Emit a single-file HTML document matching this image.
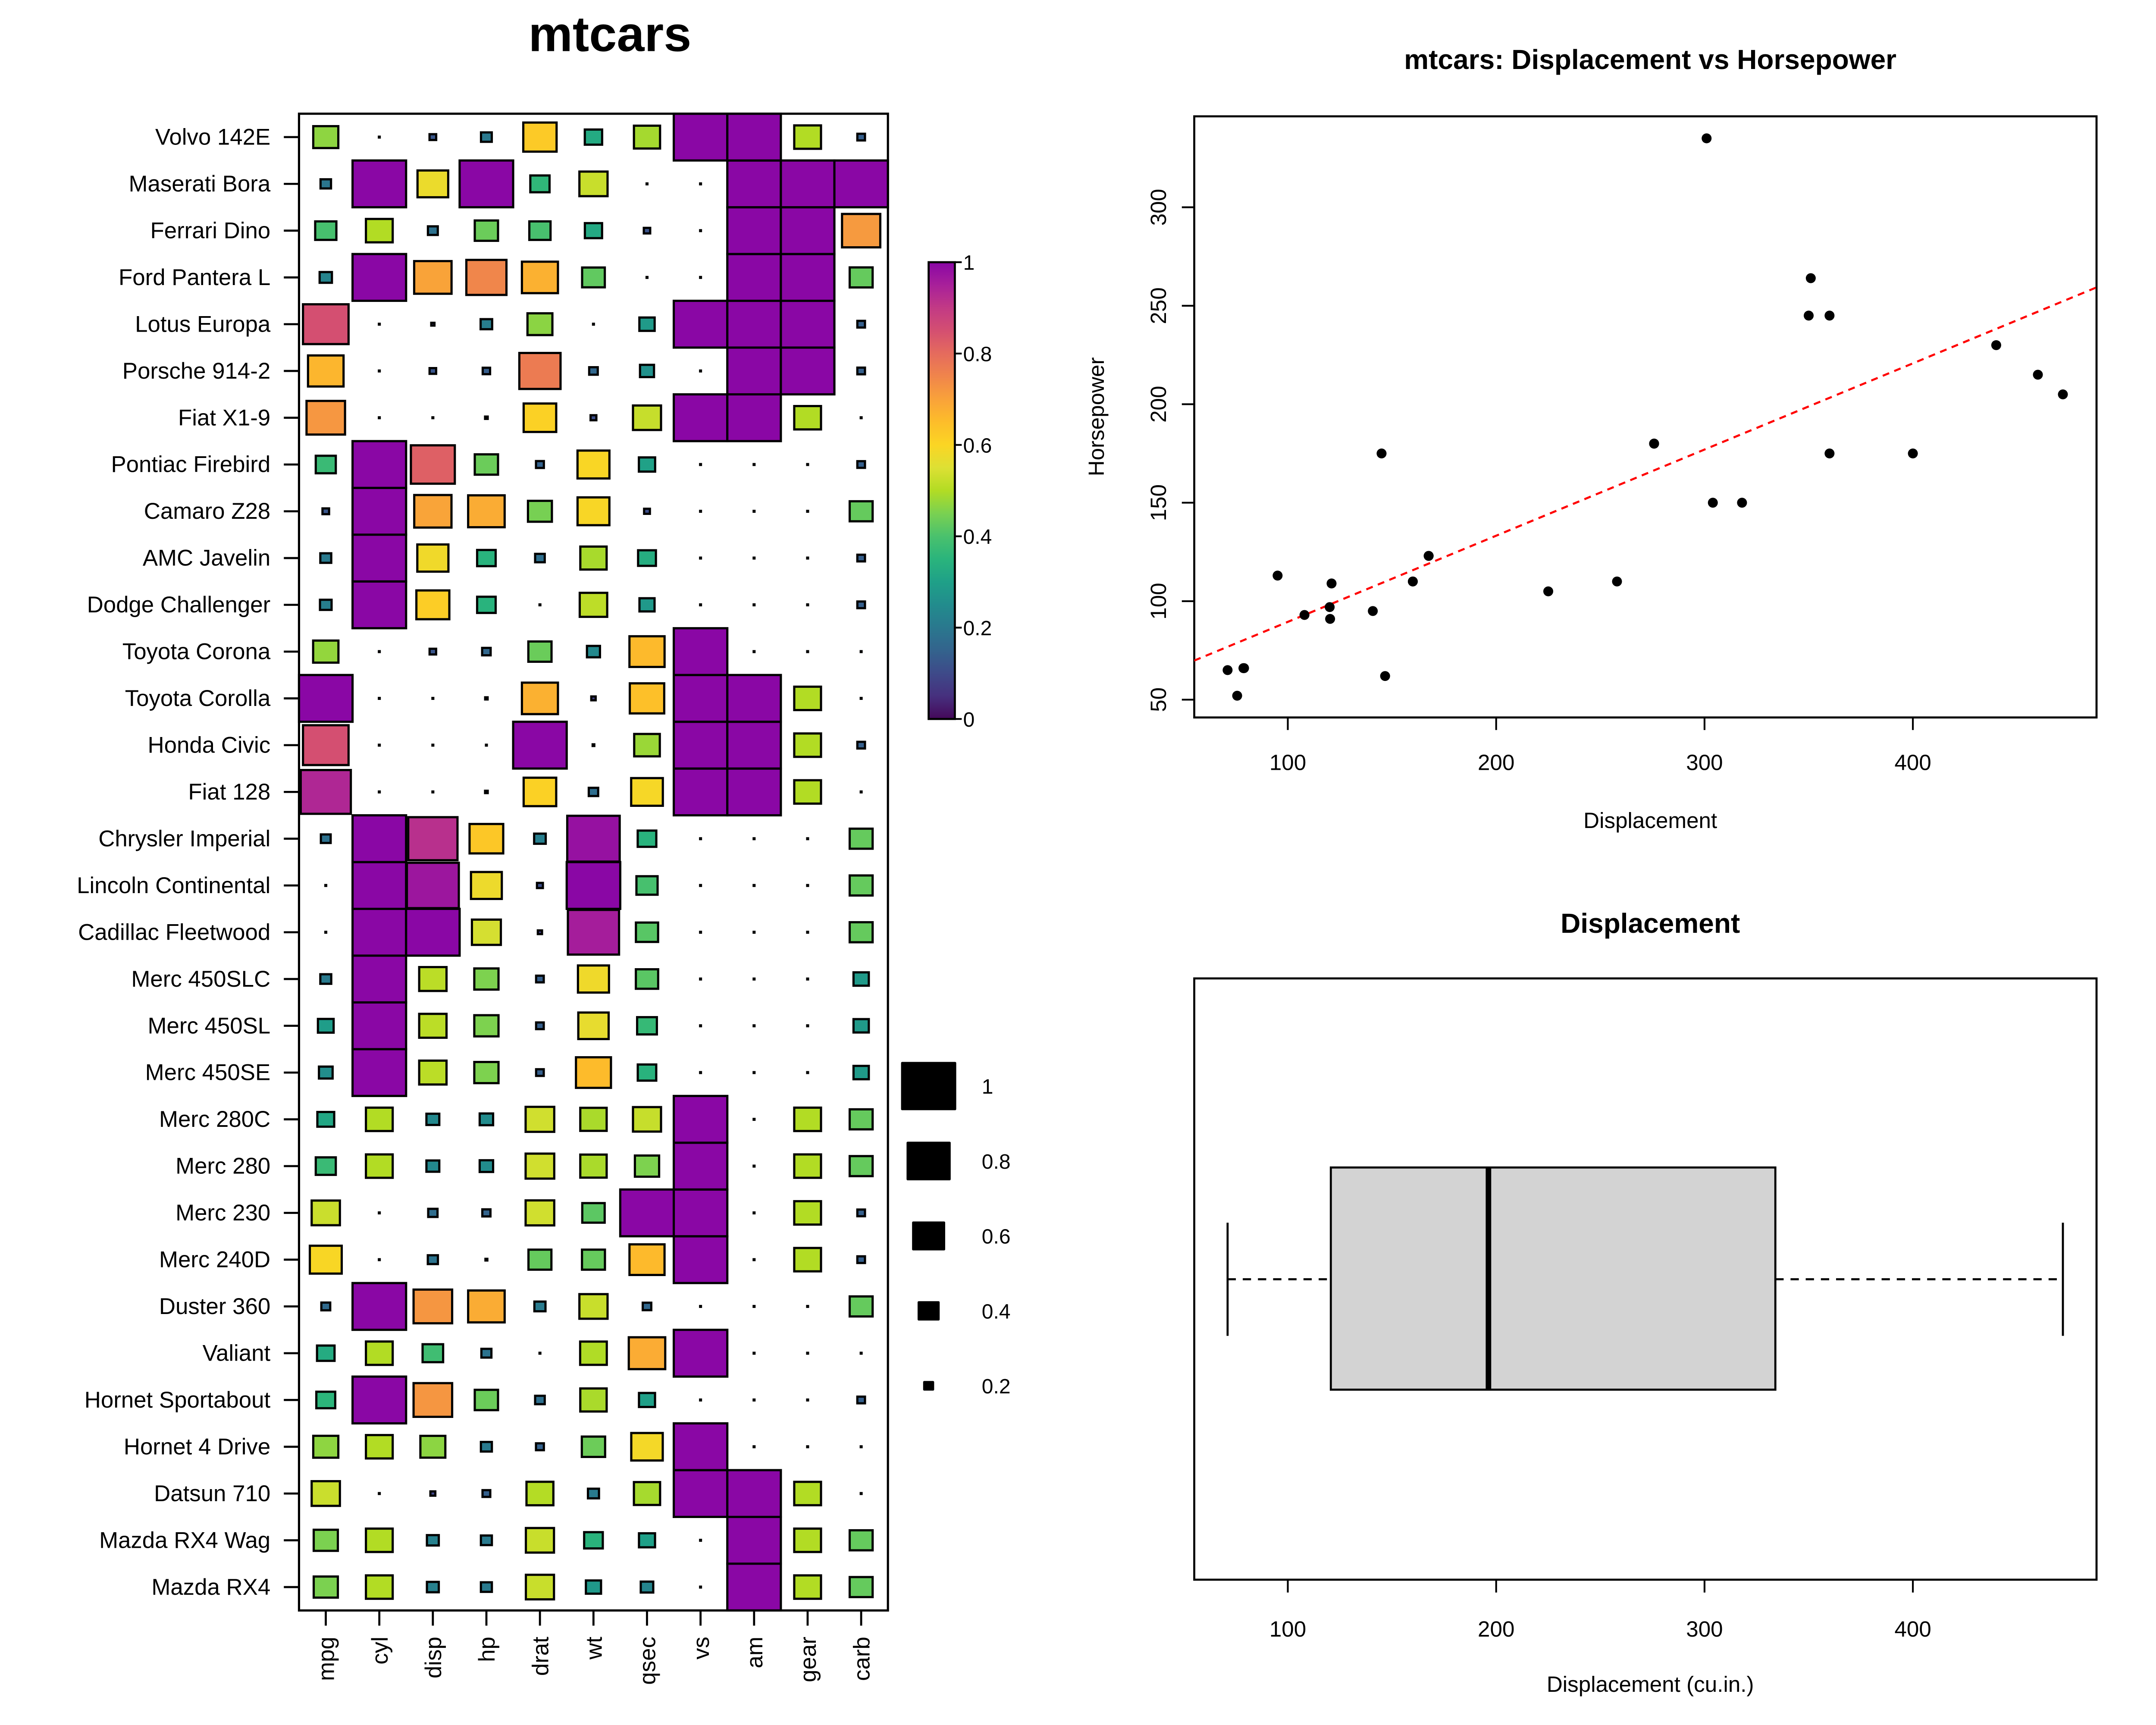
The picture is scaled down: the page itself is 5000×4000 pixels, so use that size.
<!DOCTYPE html>
<html><head><meta charset="utf-8"><style>
html,body{margin:0;padding:0;background:#fff;}
svg{display:block;}
text{font-family:"Liberation Sans",sans-serif;fill:#000;}
</style></head><body>
<svg id="chart" xmlns="http://www.w3.org/2000/svg" width="5000" height="4000" viewBox="0 0 1562.5 1250">
<defs>
<linearGradient id="cbgrad" x1="0" y1="1" x2="0" y2="0">
<stop offset="0" stop-color="#45085a"/><stop offset="0.05" stop-color="#46307e"/><stop offset="0.1" stop-color="#3e4a89"/>
<stop offset="0.15" stop-color="#33638d"/><stop offset="0.2" stop-color="#2a788e"/><stop offset="0.25" stop-color="#228c8d"/>
<stop offset="0.3" stop-color="#1fa088"/><stop offset="0.35" stop-color="#2ab47c"/><stop offset="0.4" stop-color="#4ac16d"/>
<stop offset="0.45" stop-color="#7ad151"/><stop offset="0.5" stop-color="#b2dc24"/><stop offset="0.55" stop-color="#dde034"/>
<stop offset="0.6" stop-color="#fbd524"/><stop offset="0.65" stop-color="#fdbd2a"/><stop offset="0.7" stop-color="#f9a23a"/>
<stop offset="0.75" stop-color="#f0854b"/><stop offset="0.8" stop-color="#e56b5d"/><stop offset="0.85" stop-color="#d44f71"/>
<stop offset="0.9" stop-color="#c23a85"/><stop offset="0.95" stop-color="#a8209a"/><stop offset="1" stop-color="#8a07a5"/>
</linearGradient>
<clipPath id="scClip"><rect x="865.5" y="84.3" width="653.9" height="435.6"/></clipPath>
</defs>

<text x="442" y="37" font-size="36" font-weight="bold" text-anchor="middle">mtcars</text>
<g id="heat"></g>
<rect x="216.7" y="82.4" width="426.8" height="1084.6" fill="none" stroke="#000" stroke-width="1.6"/>

<g>
<rect x="673" y="190" width="19" height="331" fill="url(#cbgrad)" stroke="#000" stroke-width="1.5"/>
<g id="cbticks"></g>
</g>
<g id="sizeLegend"></g>

<text x="1196" y="50" font-size="20" font-weight="bold" text-anchor="middle">mtcars: Displacement vs Horsepower</text>
<rect x="865.5" y="84.3" width="653.9" height="435.6" fill="none" stroke="#000" stroke-width="1.5"/>
<g id="scatter"></g>
<text x="1196" y="600" font-size="16" text-anchor="middle">Displacement</text>
<text transform="translate(800,302) rotate(-90)" font-size="16" text-anchor="middle">Horsepower</text>

<text x="1196" y="676" font-size="20" font-weight="bold" text-anchor="middle">Displacement</text>
<rect x="865.5" y="709" width="653.9" height="435.7" fill="none" stroke="#000" stroke-width="1.5"/>
<g id="boxplot"></g>
<text x="1196" y="1226" font-size="16" text-anchor="middle">Displacement (cu.in.)</text>
</svg>
<script>
const carNames = ["Mazda RX4","Mazda RX4 Wag","Datsun 710","Hornet 4 Drive","Hornet Sportabout","Valiant","Duster 360","Merc 240D","Merc 230","Merc 280","Merc 280C","Merc 450SE","Merc 450SL","Merc 450SLC","Cadillac Fleetwood","Lincoln Continental","Chrysler Imperial","Fiat 128","Honda Civic","Toyota Corolla","Toyota Corona","Dodge Challenger","AMC Javelin","Camaro Z28","Pontiac Firebird","Fiat X1-9","Porsche 914-2","Lotus Europa","Ford Pantera L","Ferrari Dino","Maserati Bora","Volvo 142E"];
const varNames = ["mpg","cyl","disp","hp","drat","wt","qsec","vs","am","gear","carb"];
const mpg = [21,21,22.8,21.4,18.7,18.1,14.3,24.4,22.8,19.2,17.8,16.4,17.3,15.2,10.4,10.4,14.7,32.4,30.4,33.9,21.5,15.5,15.2,13.3,19.2,27.3,26,30.4,15.8,19.7,15,21.4];
const cyl = [6,6,4,6,8,6,8,4,4,6,6,8,8,8,8,8,8,4,4,4,4,8,8,8,8,4,4,4,8,6,8,4];
const disp = [160,160,108,258,360,225,360,146.7,140.8,167.6,167.6,275.8,275.8,275.8,472,460,440,78.7,75.7,71.1,120.1,318,304,350,400,79,120.3,95.1,351,145,301,121];
const hp = [110,110,93,110,175,105,245,62,95,123,123,180,180,180,205,215,230,66,52,65,97,150,150,245,175,66,91,113,264,175,335,109];
const drat = [3.9,3.9,3.85,3.08,3.15,2.76,3.21,3.69,3.92,3.92,3.92,3.07,3.07,3.07,2.93,3,3.23,4.08,4.93,4.22,3.7,2.76,3.15,3.73,3.08,4.08,4.43,3.77,4.22,3.62,3.54,4.11];
const wt = [2.62,2.875,2.32,3.215,3.44,3.46,3.57,3.19,3.15,3.44,3.44,4.07,3.73,3.78,5.25,5.424,5.345,2.2,1.615,1.835,2.465,3.52,3.435,3.84,3.845,1.935,2.14,1.513,3.17,2.77,3.57,2.78];
const qsec = [16.46,17.02,18.61,19.44,17.02,20.22,15.84,20,22.9,18.3,18.9,17.4,17.6,18,17.98,17.82,17.42,19.47,18.52,19.9,20.01,16.87,17.3,15.41,17.05,18.9,16.7,16.9,14.5,15.5,14.6,18.6];
const vs = [0,0,1,1,0,1,0,1,1,1,1,0,0,0,0,0,0,1,1,1,1,0,0,0,0,1,0,1,0,0,0,1];
const am = [1,1,1,0,0,0,0,0,0,0,0,0,0,0,0,0,0,1,1,1,0,0,0,0,0,1,1,1,1,1,1,1];
const gear = [4,4,4,3,3,3,3,4,4,4,4,3,3,3,3,3,3,4,4,4,3,3,3,3,3,4,5,5,5,5,5,4];
const carb = [4,4,1,1,2,1,4,2,2,4,4,3,3,3,4,4,4,1,2,1,1,2,2,4,2,1,2,2,4,6,8,2];
const colorbarTicks = [0,0.2,0.4,0.6,0.8,1];
const sizeLegendValues = [1,0.8,0.6,0.4,0.2];
const scatterXTicks = [100,200,300,400];
const scatterYTicks = [50,100,150,200,250,300];
const boxXTicks = [100,200,300,400];

const NS = "http://www.w3.org/2000/svg";
function mk(tag, attrs, parent){const e=document.createElementNS(NS,tag);for(const k in attrs)e.setAttribute(k,attrs[k]);parent.appendChild(e);return e;}
const stops=[[0,"#45085a"],[0.05,"#46307e"],[0.1,"#3e4a89"],[0.15,"#33638d"],[0.2,"#2a788e"],[0.25,"#228c8d"],[0.3,"#1fa088"],[0.35,"#2ab47c"],[0.4,"#4ac16d"],[0.45,"#7ad151"],[0.5,"#b2dc24"],[0.55,"#dde034"],[0.6,"#fbd524"],[0.65,"#fdbd2a"],[0.7,"#f9a23a"],[0.75,"#f0854b"],[0.8,"#e56b5d"],[0.85,"#d44f71"],[0.9,"#c23a85"],[0.95,"#a8209a"],[1,"#8a07a5"]];
function hx(c){return [parseInt(c.substr(1,2),16),parseInt(c.substr(3,2),16),parseInt(c.substr(5,2),16)];}
function colorOf(v){for(let i=0;i<stops.length-1;i++){if(v<=stops[i+1][0]){const t=(v-stops[i][0])/(stops[i+1][0]-stops[i][0]);const a=hx(stops[i][1]),b=hx(stops[i+1][1]);return "rgb("+a.map((x,j)=>Math.round(x+(b[j]-x)*t)).join(",")+")";}}return stops[stops.length-1][1];}

const heat=document.getElementById("heat");
const hL=216.7,hR=643.5,hT=82.4,hB=1167;
const cw=(hR-hL)/varNames.length, ch=(hB-hT)/carNames.length;
const cols=[mpg,cyl,disp,hp,drat,wt,qsec,vs,am,gear,carb];
function colX(j){return hL+(j+0.5)*cw;}
function rowY(i){return hB-(i+0.5)*ch;}
cols.forEach((arr,j)=>{
  const mn=Math.min(...arr),mx=Math.max(...arr);
  arr.forEach((val,i)=>{
    const v=(val-mn)/(mx-mn);
    const w=Math.max(v*cw,1.2),h=Math.max(v*ch,1.2);
    const r=mk("rect",{x:colX(j)-w/2,y:rowY(i)-h/2,width:w,height:h,fill:colorOf(v),stroke:"#000","stroke-width":v>0.02?1.6:1},heat);
    
    
  });
});
carNames.forEach((nm,i)=>{
  const t=mk("line",{x1:hL-11,x2:hL,y1:rowY(i),y2:rowY(i),stroke:"#000","stroke-width":1.5},heat);
  
  
  const tx=mk("text",{x:196,y:rowY(i)+5.5,"font-size":16.5,"text-anchor":"end"},heat);
  tx.textContent=nm;
  
  
});
varNames.forEach((nm,j)=>{
  const t=mk("line",{x1:colX(j),x2:colX(j),y1:hB,y2:hB+11,stroke:"#000","stroke-width":1.5},heat);
  
  
  const tx=mk("text",{transform:"translate("+(colX(j)+6)+","+(hB+19)+") rotate(-90)","font-size":16.5,"text-anchor":"end"},heat);
  tx.textContent=nm;
  
  
});

const cbg=document.getElementById("cbticks");
colorbarTicks.forEach(v=>{
  const y=521-v*331;
  const l=mk("line",{x1:692,x2:697,y1:y,y2:y,stroke:"#000","stroke-width":1.3},cbg);
  
  
  const t=mk("text",{x:698,y:y+5.5,"font-size":15},cbg);
  t.textContent=String(v);
  
  
});

const sl=document.getElementById("sizeLegend");
sizeLegendValues.forEach((v,k)=>{
  const y=787+k*54.3,w=v*40,h=v*35;
  const r=mk("rect",{x:673-w/2,y:y-h/2,width:w,height:h,fill:"#000",rx:0.8},sl);
  
  
  const t=mk("text",{x:711.5,y:y+5.5,"font-size":15},sl);
  t.textContent=String(v);
  
  
});

const sc=document.getElementById("scatter");
function sx(v){return 933.3+(v-100)*1.51;}
function sy(v){return 507-(v-50)*1.4272;}
scatterXTicks.forEach(v=>{
  const l=mk("line",{x1:sx(v),x2:sx(v),y1:519.9,y2:529,stroke:"#000","stroke-width":1.3},sc);
  
  
  const t=mk("text",{x:sx(v),y:558,"font-size":16,"text-anchor":"middle"},sc);
  t.textContent=String(v);
  
  
});
scatterYTicks.forEach(v=>{
  const l=mk("line",{x1:856.5,x2:865.5,y1:sy(v),y2:sy(v),stroke:"#000","stroke-width":1.3},sc);
  
  
  const t=mk("text",{transform:"translate(845,"+sy(v)+") rotate(-90)","font-size":16,"text-anchor":"middle"},sc);
  t.textContent=String(v);
  
  
});
const nPts=disp.length, mxv=disp.reduce((a,b)=>a+b)/nPts, myv=hp.reduce((a,b)=>a+b)/nPts;
let sxy=0,sxx=0;for(let i=0;i<nPts;i++){sxy+=(disp[i]-mxv)*(hp[i]-myv);sxx+=(disp[i]-mxv)*(disp[i]-mxv);}
const slope=sxy/sxx, icpt=myv-slope*mxv;
const rl=mk("line",{x1:sx(0),y1:sy(icpt),x2:sx(600),y2:sy(icpt+slope*600),stroke:"#ff0000","stroke-width":1.5,"stroke-dasharray":"5,4","clip-path":"url(#scClip)"},sc);


disp.forEach((d,i)=>{
  const c=mk("circle",{cx:sx(d),cy:sy(hp[i]),r:3.6,fill:"#000"},sc);
  
  
});

const bp=document.getElementById("boxplot");
const sorted=[...disp].sort((a,b)=>a-b);
function hinge(arr){const m=arr.length;const n4=Math.floor((m+3)/2)/2;const d=[1,n4,(m+1)/2,m+1-n4,m];return d.map(p=>0.5*(arr[Math.floor(p)-1]+arr[Math.ceil(p)-1]));}
const fn=hinge(sorted);
const by=927,bTop=846,bBot=1007,cTop=886,cBot=968;
boxXTicks.forEach(v=>{
  const l=mk("line",{x1:sx(v),x2:sx(v),y1:1144.7,y2:1154,stroke:"#000","stroke-width":1.3},bp);
  
  
  const t=mk("text",{x:sx(v),y:1186,"font-size":16,"text-anchor":"middle"},bp);
  t.textContent=String(v);
  
  
});
const w1=mk("line",{x1:sx(fn[0]),x2:sx(fn[1]),y1:by,y2:by,stroke:"#000","stroke-width":1.5,"stroke-dasharray":"6,5"},bp);


const w2=mk("line",{x1:sx(fn[3]),x2:sx(fn[4]),y1:by,y2:by,stroke:"#000","stroke-width":1.5,"stroke-dasharray":"6,5"},bp);


const c1=mk("line",{x1:sx(fn[0]),x2:sx(fn[0]),y1:cTop,y2:cBot,stroke:"#000","stroke-width":1.5},bp);


const c2=mk("line",{x1:sx(fn[4]),x2:sx(fn[4]),y1:cTop,y2:cBot,stroke:"#000","stroke-width":1.5},bp);


const box=mk("rect",{x:sx(fn[1]),y:bTop,width:sx(fn[3])-sx(fn[1]),height:bBot-bTop,fill:"#d3d3d3",stroke:"#000","stroke-width":1.5},bp);


const md=mk("line",{x1:sx(fn[2]),x2:sx(fn[2]),y1:bTop,y2:bBot,stroke:"#000","stroke-width":4},bp);


</script>
</body></html>
